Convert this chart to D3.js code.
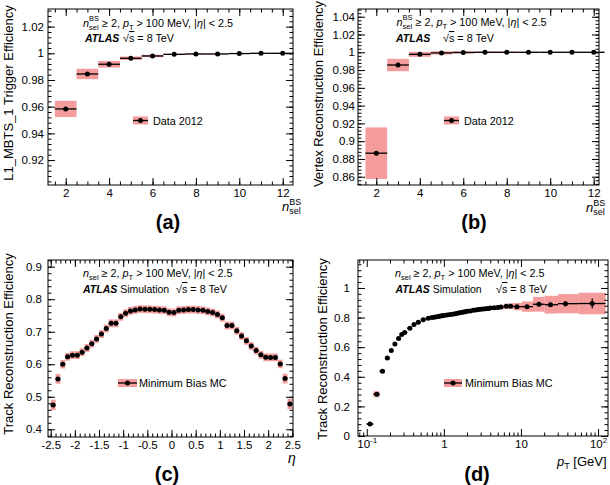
<!DOCTYPE html>
<html lang="en">
<head>
<meta charset="utf-8">
<title>ATLAS efficiencies</title>
<script src="https://d3js.org/d3.v7.min.js"></script>
<style>
body { margin: 0; background: #fff; }
svg { font-family: "Liberation Sans", Arial, Helvetica, sans-serif; }
</style>
</head>
<body>
<script>
// ---- data ----
const nsel = [2, 3, 4, 5, 6, 7, 8, 9, 10, 11, 12];
const trigEff = [0.9583, 0.9845, 0.9918, 0.9963, 0.9980, 0.9992, 0.9995, 0.9995, 0.9998, 1.0, 1.0];
const trigSyst = [0.0061, 0.0039, 0.0025, 0.0013, 0.0009, 0.0005, 0.0004, 0.0003, 0.0003, 0.0002, 0.0002];
const vtxEff = [0.8865, 0.9857, 0.9977, 0.9993, 0.9998, 1.0, 1.0, 1.0, 1.0, 1.0, 1.0];
const vtxSyst = [0.029, 0.007, 0.0028, 0.0018, 0.0012, 0.0009, 0.0007, 0.0006, 0.0005, 0.0005, 0.0004];

const etaCenters = [-2.45, -2.35, -2.25, -2.15, -2.05, -1.95, -1.85, -1.75, -1.65, -1.55,
  -1.45, -1.35, -1.25, -1.15, -1.05, -0.95, -0.85, -0.75, -0.65, -0.55,
  -0.45, -0.35, -0.25, -0.15, -0.05, 0.05, 0.15, 0.25, 0.35, 0.45,
  0.55, 0.65, 0.75, 0.85, 0.95, 1.05, 1.15, 1.25, 1.35, 1.45,
  1.55, 1.65, 1.75, 1.85, 1.95, 2.05, 2.15, 2.25, 2.35, 2.45];
const trkEffEta = [0.475, 0.555, 0.600, 0.623, 0.628, 0.628, 0.637, 0.650, 0.663, 0.678,
  0.693, 0.710, 0.726, 0.726, 0.746, 0.757, 0.764, 0.767, 0.770, 0.769,
  0.769, 0.768, 0.767, 0.766, 0.760, 0.759, 0.766, 0.767, 0.768, 0.768,
  0.767, 0.766, 0.7625, 0.759, 0.753, 0.743, 0.719, 0.719, 0.703, 0.687,
  0.672, 0.656, 0.642, 0.629, 0.6215, 0.621, 0.621, 0.601, 0.556, 0.478];
const trkSystEta = [0.016, 0.015, 0.013, 0.012, 0.012, 0.012, 0.012, 0.012, 0.012, 0.012,
  0.012, 0.012, 0.012, 0.012, 0.012, 0.012, 0.012, 0.012, 0.012, 0.012,
  0.012, 0.012, 0.012, 0.012, 0.012, 0.012, 0.012, 0.012, 0.012, 0.012,
  0.012, 0.012, 0.012, 0.012, 0.012, 0.012, 0.012, 0.012, 0.012, 0.012,
  0.012, 0.012, 0.012, 0.012, 0.012, 0.012, 0.012, 0.013, 0.015, 0.016];

const ptCenters = [0.11, 0.135, 0.16, 0.185, 0.208, 0.232, 0.259, 0.284, 0.31, 0.363,
  0.41, 0.466, 0.54, 0.627, 0.7, 0.75, 0.8, 0.85, 0.9, 0.95,
  1.0, 1.1, 1.2, 1.3, 1.4, 1.5, 1.6, 1.7, 1.8, 1.9,
  2.0, 2.2, 2.4, 2.6, 2.8, 3.0, 3.25, 3.5, 3.75, 4.0,
  4.5, 5.0, 5.5, 6.47, 7.36, 8.87, 12.0, 17.1, 24.2, 37.8, 84];
const trkEffPt = [0.081, 0.282, 0.438, 0.527, 0.577, 0.622, 0.659, 0.686, 0.700, 0.728,
  0.754, 0.768, 0.785, 0.795, 0.800, 0.803, 0.806, 0.808, 0.810, 0.812,
  0.814, 0.817, 0.820, 0.823, 0.826, 0.829, 0.832, 0.834, 0.837, 0.839,
  0.842, 0.845, 0.849, 0.852, 0.854, 0.856, 0.858, 0.860, 0.862, 0.864,
  0.866, 0.868, 0.871, 0.876, 0.877, 0.874, 0.874, 0.890, 0.887, 0.894, 0.895];
const trkSystPt = [0.006, 0.02, 0.01, 0.01, 0.009, 0.009, 0.009, 0.009, 0.008, 0.008,
  0.008, 0.008, 0.008, 0.008, 0.007, 0.007, 0.007, 0.007, 0.007, 0.007,
  0.007, 0.007, 0.007, 0.007, 0.007, 0.007, 0.007, 0.007, 0.007, 0.007,
  0.007, 0.007, 0.008, 0.008, 0.008, 0.009, 0.009, 0.01, 0.01, 0.011,
  0.012, 0.013, 0.015, 0.018, 0.02, 0.025, 0.035, 0.05, 0.06, 0.065, 0.073];
const trkStatPt = [0.003, 0.004, 0.003, 0.003, 0.002, 0.002, 0.002, 0.002, 0.002, 0.002,
  0, 0, 0, 0, 0, 0, 0, 0, 0, 0, 0, 0, 0, 0, 0, 0, 0, 0, 0, 0,
  0, 0, 0, 0, 0, 0, 0, 0, 0, 0, 0, 0, 0, 0.002, 0.002, 0.003, 0.004, 0.006, 0.008, 0.018, 0.034];

// tick labels
const yTicksA = [0.92, 0.94, 0.96, 0.98, 1, 1.02];
const yTicksB = [0.86, 0.88, 0.9, 0.92, 0.94, 0.96, 0.98, 1, 1.02, 1.04];
const xTicksAB = [2, 4, 6, 8, 10, 12];
const yTicksC = [0.4, 0.5, 0.6, 0.7, 0.8, 0.9];
const xTicksC = [-2.5, -2, -1.5, -1, -0.5, 0, 0.5, 1, 1.5, 2, 2.5];
const yTicksD = [0, 0.2, 0.4, 0.6, 0.8, 1];
const xTicksD = [0.1, 1, 10, 100];

const W = 610, H = 485;
const BAND = "#f59c9c";

const svg = d3.select("body").append("svg")
  .attr("width", W).attr("height", H);

function steps(lo, hi, step) {
  return d3.range(Math.ceil(lo / step - 1e-9), Math.floor(hi / step + 1e-9) + 1).map(k => +(k * step).toFixed(6));
}

function drawPanel(p) {
  const g = svg.append("g");
  const x = p.x, y = p.y;
  const [L, R] = x.range(), [B, T] = y.range();

  // systematic bands
  g.selectAll("rect.band").data(p.pts).join("rect")
    .attr("class", "band")
    .attr("x", d => x(d.lo)).attr("width", d => x(d.hi) - x(d.lo))
    .attr("y", d => y(d.v + d.e))
    .attr("height", d => Math.max(y(d.v - d.e) - y(d.v + d.e), 0.8))
    .attr("fill", BAND);

  // bin widths
  g.selectAll("line.hbar").data(p.pts).join("line")
    .attr("x1", d => x(d.lo)).attr("x2", d => x(d.hi))
    .attr("y1", d => y(d.v)).attr("y2", d => y(d.v))
    .attr("stroke", "#000").attr("stroke-width", 1.3);

  // stat errors
  g.selectAll("line.vbar").data(p.pts.filter(d => d.s > 0)).join("line")
    .attr("x1", d => x(d.c)).attr("x2", d => x(d.c))
    .attr("y1", d => y(d.v + d.s)).attr("y2", d => y(d.v - d.s))
    .attr("stroke", "#000").attr("stroke-width", 1.2);

  g.selectAll("circle").data(p.pts).join("circle")
    .attr("cx", d => x(d.c)).attr("cy", d => y(d.v))
    .attr("r", 2.5).attr("fill", "#000");

  // axes, ticks pointing inward on all four sides
  const ax = (gen, tx, ty, vals, size, fmt, pad) => {
    const a = g.append("g").attr("transform", `translate(${tx},${ty})`)
      .call(gen.tickValues(vals).tickSizeInner(-size).tickSizeOuter(0)
        .tickPadding(pad || 3).tickFormat(fmt || (() => "")));
    a.select(".domain").remove();
    a.attr("font-size", null).attr("font-family", null);
    a.selectAll("text").attr("font-size", 11.5).attr("fill", "#000");
    a.selectAll("line").attr("stroke", "#000");
    return a;
  };
  const fmt = d => String(+d.toFixed(3));
  const yMinor = steps(y.domain()[0], y.domain()[1], p.yMinor);
  const xMinor = p.log ? x.ticks().filter(v => Math.abs(Math.log10(v) % 1) > 1e-6)
                       : steps(x.domain()[0], x.domain()[1], p.xMinor);

  ax(d3.axisLeft(y), L, 0, p.yTicks, 7, fmt, p.ypad);
  ax(d3.axisLeft(y), L, 0, yMinor, 3.5);
  ax(d3.axisRight(y), R, 0, p.yTicks, 7);
  ax(d3.axisRight(y), R, 0, yMinor, 3.5);
  const xa = ax(d3.axisBottom(x), 0, B, p.xTicks, 7, p.xFmt || fmt, 3.5);
  ax(d3.axisBottom(x), 0, B, xMinor, 3.5);
  ax(d3.axisTop(x), 0, T, p.xTicks, 7);
  ax(d3.axisTop(x), 0, T, xMinor, 3.5);
  if (p.xHtml) xa.selectAll("text").each(function(d) { d3.select(this).html(p.xHtml(d)); });

  g.append("rect").attr("x", L).attr("y", T).attr("width", R - L).attr("height", B - T)
    .attr("fill", "none").attr("stroke", "#000").attr("stroke-width", 1);

  // y title
  svg.append("text")
    .attr("transform", `translate(${p.ytx},${p.yty}) rotate(-90)`)
    .attr("text-anchor", "middle").attr("font-size", 13)
    .text(p.ytitle);
}

function header(x0, y0, sup, sim, x1, y1, sx) {
  const t = svg.append("text").attr("x", x0).attr("y", y0).attr("font-size", 10.8);
  t.html(`<tspan font-style="italic">n</tspan><tspan font-size="7.5" dy="3">sel</tspan>` +
    (sup ? `<tspan font-size="7.5" dx="-9.6" dy="-9">BS</tspan><tspan dy="6"> ≥ 2, </tspan>`
         : `<tspan dy="-3"> ≥ 2, </tspan>`) +
    `<tspan font-style="italic">p</tspan><tspan font-size="7.5" dy="3">T</tspan>` +
    `<tspan dy="-3"> &gt; 100 MeV, |</tspan><tspan font-style="italic">η</tspan><tspan>| &lt; 2.5</tspan>`);
  const t2 = svg.append("text").attr("x", x1).attr("y", y1).attr("font-size", 10.5);
  t2.html(`<tspan font-weight="bold" font-style="italic">ATLAS</tspan>` + (sim ? " Simulation" : ""));
  svg.append("text").attr("x", sx).attr("y", y1).attr("font-size", 10.8)
    .html(`√<tspan text-decoration="overline">s</tspan> = 8 TeV`);
}

function legend(x0, x1, cy, tx, label) {
  svg.append("rect").attr("x", x0).attr("y", cy - 4).attr("width", x1 - x0).attr("height", 8).attr("fill", BAND);
  svg.append("line").attr("x1", x0).attr("x2", x1).attr("y1", cy).attr("y2", cy)
    .attr("stroke", "#000").attr("stroke-width", 1.3);
  svg.append("circle").attr("cx", (x0 + x1) / 2).attr("cy", cy).attr("r", 2.5);
  svg.append("text").attr("x", tx).attr("y", cy + 4).attr("font-size", 10.8).text(label);
}

function nselTitle(x0, y0) {
  svg.append("text").attr("x", x0).attr("y", y0).attr("font-size", 13)
    .html(`<tspan font-style="italic">n</tspan><tspan font-size="9" dy="3">sel</tspan><tspan font-size="9" dx="-11.5" dy="-9.5">BS</tspan>`);
}

function panelLabel(cx, by, s) {
  svg.append("text").attr("x", cx).attr("y", by).attr("text-anchor", "middle")
    .attr("font-size", 20).attr("font-weight", "bold").text(s);
}

// ---- panel (a) ----
drawPanel({
  x: d3.scaleLinear().domain([1.184, 12.475]).range([48, 293]),
  y: d3.scaleLinear().domain([0.9013, 1.0332]).range([185, 9]),
  pts: nsel.map((n, i) => ({ c: n, lo: n - 0.5, hi: n + 0.5, v: trigEff[i], e: trigSyst[i], s: 0 })),
  yTicks: yTicksA, xTicks: xTicksAB, yMinor: 0.004, xMinor: 0.5, ypad: 4,
  ytitle: "L1_MBTS_1 Trigger Efficiency", ytx: 12.5, yty: 93
});
header(83, 26.5, true, false, 85, 42, 123);
legend(133, 148, 120.5, 153, "Data 2012");
nselTitle(282, 211);
panelLabel(168, 229, "(a)");

// ---- panel (b) ----
drawPanel({
  x: d3.scaleLinear().domain([1.158, 12.244]).range([358, 599]),
  y: d3.scaleLinear().domain([0.8507, 1.0487]).range([185, 9]),
  pts: nsel.map((n, i) => ({ c: n, lo: n - 0.5, hi: n + 0.5, v: vtxEff[i], e: vtxSyst[i], s: 0 })),
  yTicks: yTicksB, xTicks: xTicksAB, yMinor: 0.004, xMinor: 0.5, ypad: 3,
  ytitle: "Vertex Reconstruction Efficiency", ytx: 322.5, yty: 94
});
header(396.5, 26, true, false, 396, 42, 443);
legend(444, 459, 120.5, 464, "Data 2012");
nselTitle(586, 212);
panelLabel(474, 229, "(b)");

// ---- panel (c) ----
drawPanel({
  x: d3.scaleLinear().domain([-2.556, 2.514]).range([48, 293]),
  y: d3.scaleLinear().domain([0.3763, 0.9206]).range([437, 260]),
  pts: etaCenters.map((c, i) => ({ c: c, lo: c - 0.05, hi: c + 0.05, v: trkEffEta[i], e: trkSystEta[i], s: 0 })),
  yTicks: yTicksC, xTicks: xTicksC, yMinor: 0.02, xMinor: 0.1, ypad: 6,
  ytitle: "Track Reconstruction Efficiency", ytx: 12.5, yty: 344
});
header(83, 276.5, false, true, 83, 293, 176);
legend(118, 137, 383, 139, "Minimum Bias MC");
svg.append("text").attr("x", 288).attr("y", 463).attr("font-size", 14)
  .attr("font-style", "italic").text("η");
panelLabel(167, 481, "(c)");

// ---- panel (d) ----
const ptEdges = ptCenters.map((c, i) => {
  const lo = i > 0 ? Math.sqrt(c * ptCenters[i - 1]) : c * c / Math.sqrt(c * ptCenters[1]);
  const hi = i < ptCenters.length - 1 ? Math.sqrt(c * ptCenters[i + 1]) : c * c / Math.sqrt(c * ptCenters[i - 1]);
  return [lo, hi];
});
drawPanel({
  x: d3.scaleLog().domain([0.077, 134.6]).range([358, 608]),
  y: d3.scaleLinear().domain([0, 1.189]).range([436, 260]),
  pts: ptCenters.map((c, i) => ({ c: c, lo: ptEdges[i][0], hi: ptEdges[i][1], v: trkEffPt[i], e: trkSystPt[i], s: trkStatPt[i] })),
  yTicks: yTicksD, xTicks: xTicksD, yMinor: 0.04, log: true, ypad: 8,
  xHtml: d => d === 0.1 ? `10<tspan font-size="8" dy="-5">-1</tspan>`
            : d === 100 ? `10<tspan font-size="8" dy="-5">2</tspan>` : String(d),
  ytitle: "Track Reconstruction Efficiency", ytx: 327, yty: 349
});
header(395, 276.5, false, true, 395.5, 293, 496);
legend(444, 462, 383, 465, "Minimum Bias MC");
svg.append("text").attr("x", 557).attr("y", 466).attr("font-size", 13)
  .html(`<tspan font-style="italic">p</tspan><tspan font-size="9" dy="3">T</tspan><tspan dy="-3"> [GeV]</tspan>`);
panelLabel(477, 481, "(d)");
</script>
</body>
</html>
